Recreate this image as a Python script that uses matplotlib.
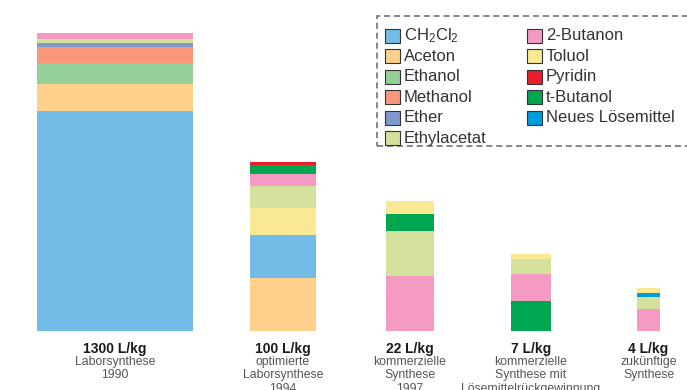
import matplotlib
matplotlib.use("Agg")
import matplotlib.pyplot as plt
from matplotlib.patches import Rectangle
from matplotlib import font_manager

# Solvent colours
solvents = ["CH2Cl2", "Aceton", "Ethanol", "Methanol", "Ether", "Ethylacetat",
            "2-Butanon", "Toluol", "Pyridin", "t-Butanol", "Neues Lösemittel"]
colors = ["#74bce8", "#fed08c", "#95d09a", "#f8977a", "#8099cc", "#d4e19c",
          "#f49ac3", "#f8e992", "#e8202a", "#00a650", "#009ddc"]
legend_labels = [r"CH$_2$Cl$_2$", "Aceton", "Ethanol", "Methanol", "Ether", "Ethylacetat",
                 "2-Butanon", "Toluol", "Pyridin", "t-Butanol", "Neues Lösemittel"]

# Stacked segments per synthesis (bottom to top), in display units
stack_1990 = [("CH2Cl2", 220), ("Aceton", 27), ("Ethanol", 21), ("Methanol", 16),
              ("Ether", 4), ("Ethylacetat", 4), ("2-Butanon", 6)]
stack_1994 = [("Aceton", 53), ("CH2Cl2", 43), ("Toluol", 27), ("Ethylacetat", 22),
              ("2-Butanon", 12), ("t-Butanol", 9), ("Pyridin", 3)]
stack_1997 = [("2-Butanon", 55), ("Ethylacetat", 45), ("t-Butanol", 17), ("Toluol", 13)]
stack_recycling = [("t-Butanol", 30), ("2-Butanon", 27), ("Ethylacetat", 15), ("Toluol", 5)]
stack_future = [("2-Butanon", 22), ("Ethylacetat", 12), ("Neues Lösemittel", 4), ("Toluol", 5)]
stacks = [stack_1990, stack_1994, stack_1997, stack_recycling, stack_future]

amounts = ["1300 L/kg", "100 L/kg", "22 L/kg", "7 L/kg", "4 L/kg"]
descriptions = ["Laborsynthese\n1990",
                "optimierte\nLaborsynthese\n1994",
                "kommerzielle\nSynthese\n1997",
                "kommerzielle\nSynthese mit\nLösemittelrückgewinnung",
                "zukünftige\nSynthese"]

# Layout
centers = [115, 283, 410, 531, 648.5]
widths = [156, 66, 48, 40, 23]
color_of = dict(zip(solvents, colors))

available = {f.name for f in font_manager.fontManager.ttflist}
narrow = "Liberation Sans Narrow" if "Liberation Sans Narrow" in available else "Liberation Sans"
plt.rcParams["mathtext.default"] = "regular"

fig = plt.figure(figsize=(6.87, 3.9), dpi=100)
ax = fig.add_axes([0, 0, 1, 1])
ax.set_xlim(0, 687)
ax.set_ylim(-59, 331)
ax.axis("off")

for stack, cx, w in zip(stacks, centers, widths):
    bottom = 0
    for name, val in stack:
        ax.bar(cx, val, width=w, bottom=bottom, color=color_of[name],
               edgecolor="none", linewidth=0)
        bottom += val

for cx, amt, desc in zip(centers, amounts, descriptions):
    ax.text(cx, -11, amt, ha="center", va="top", fontsize=10, fontweight="bold",
            family=[narrow, "DejaVu Sans"], color="#1a1a1a")
    ax.text(cx, -25, desc, ha="center", va="top", fontsize=8.8,
            family=[narrow, "DejaVu Sans"], color="#555555", linespacing=1.16)

# Legend box
ax.add_patch(Rectangle((377, 331 - 146), 320, 130, fill=False, edgecolor="#666666",
                       linewidth=1.1, linestyle=(0, (4, 2.5)), clip_on=False))
col_x = [385, 527]
for i, (lab, col) in enumerate(zip(legend_labels, colors)):
    c, r = (0, i) if i < 6 else (1, i - 6)
    yc = 331 - (36 + 20.4 * r)
    ax.add_patch(Rectangle((col_x[c], yc - 7), 15, 14, facecolor=col,
                           edgecolor="#333333", linewidth=0.8))
    ax.text(col_x[c] + 19, yc, lab, ha="left", va="center", fontsize=12,
            family=["Liberation Sans", "DejaVu Sans"], color="#333333")

fig.savefig("out.png", dpi=100)
